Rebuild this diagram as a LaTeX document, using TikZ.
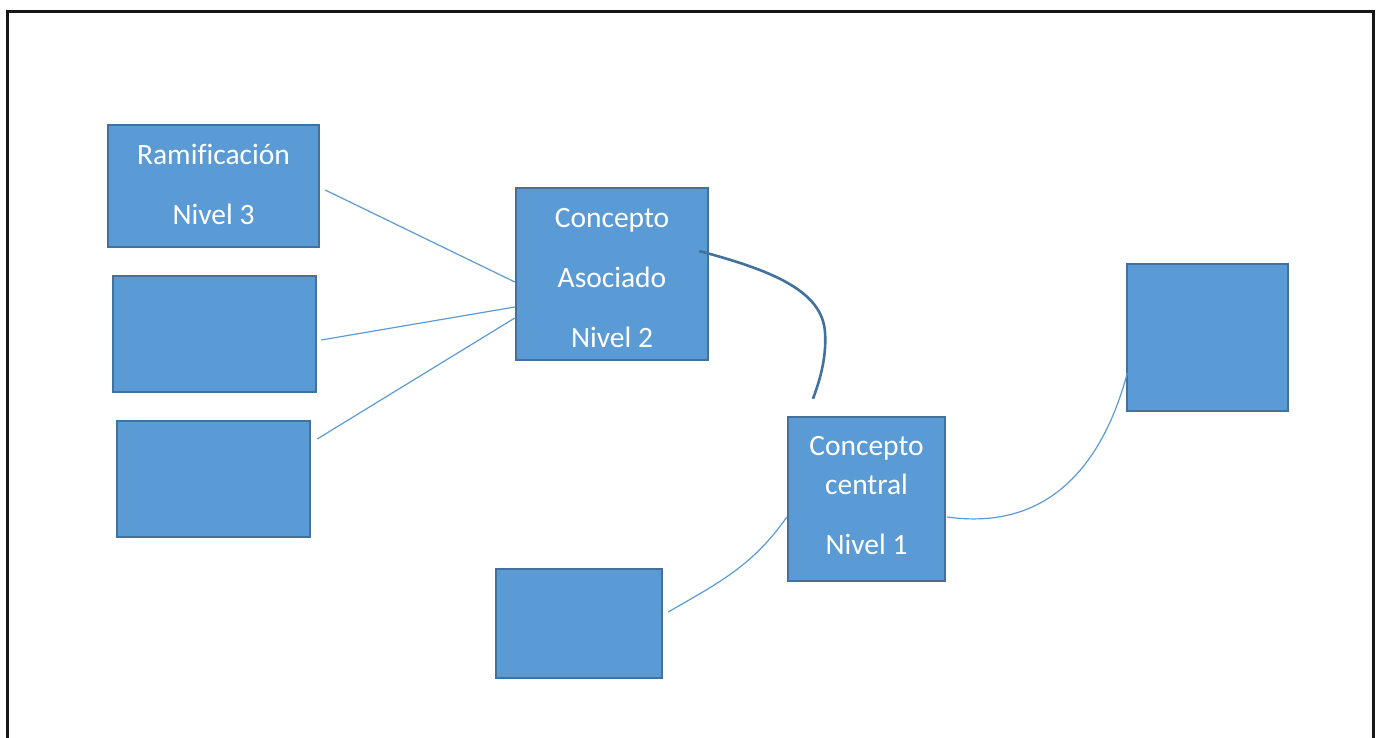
\documentclass[tikz,border=0pt]{standalone}
\usepackage{fontspec}
\setmainfont[Ligatures=NoCommon]{Carlito}
\definecolor{boxfill}{HTML}{5B9BD5}
\definecolor{boxedge}{HTML}{41719C}
\definecolor{framegray}{HTML}{161616}
\begin{document}
\begin{tikzpicture}[x=1pt,y=-1pt,
  conceptbox/.style={draw=boxedge,fill=boxfill,line width=2.4pt,inner sep=0pt},
  boxtext/.style={inner sep=0pt,align=center,text=white,
    font=\fontsize{29.5}{39}\selectfont},
  thinlink/.style={draw=boxfill,line width=1.2pt},
  thicklink/.style={draw=boxedge,line width=2.6pt}]
\useasboundingbox (0,0) rectangle (1377,738);
% outer frame, open at the bottom
\draw[framegray,line width=3pt] (7,738) -- (7,12) -- (1373,12) -- (1373,738);

% concept boxes
\node[conceptbox,minimum width=211pt,minimum height=122pt] (ram) at (213.5,186) {};
\node[conceptbox,minimum width=203pt,minimum height=116pt] (b2) at (214.5,334) {};
\node[conceptbox,minimum width=193pt,minimum height=116pt] (b3) at (213.5,479) {};
\node[conceptbox,minimum width=192pt,minimum height=172pt] (asoc) at (612,274) {};
\node[conceptbox,minimum width=157pt,minimum height=164pt] (central) at (866.5,499) {};
\node[conceptbox,minimum width=161pt,minimum height=147pt] (right) at (1207.5,337.5) {};
\node[conceptbox,minimum width=166pt,minimum height=109pt] (bottom) at (579,623.5) {};

% box labels
\node[boxtext] (ram-text) at ([yshift=2pt]ram.center) {Ramificación\\[21pt]Nivel 3};
\node[boxtext] (asoc-text) at ([yshift=-4.5pt]asoc.center)
  {Concepto\\[21pt]Asociado\\[21pt]Nivel 2};
\node[boxtext] (central-text) at ([yshift=3pt]central.center)
  {Concepto\\central\\[21pt]Nivel 1};

% branches to the associated concept
\draw[thinlink] ([xshift=5pt,yshift=-4pt]ram.east) -- ([yshift=-8pt]asoc.west);
\draw[thinlink] ([xshift=4pt,yshift=-6pt]b2.east) -- ([yshift=-33pt]asoc.west);
\draw[thinlink] ([xshift=6pt,yshift=40pt]b3.east) -- ([yshift=-44pt]asoc.west);

% associated concept to central concept
\draw[thicklink] ([xshift=-10pt,yshift=23pt]asoc.east)
  .. controls (770,270) and (822,290) .. (825,332)
  .. controls (827,360) and (818,385) .. ([xshift=-53.5pt,yshift=17pt]central.north);

% links around the central concept
\draw[thinlink] ([xshift=5pt,yshift=11.5pt]bottom.east)
  to[out=30,in=235] ([xshift=0pt,yshift=-18pt]central.west);
\draw[thinlink] ([xshift=1pt,yshift=-18pt]central.east)
  to[out=-8,in=-105,looseness=1.1] ([xshift=1.5pt,yshift=-35.5pt]right.west);
\end{tikzpicture}
\end{document}
